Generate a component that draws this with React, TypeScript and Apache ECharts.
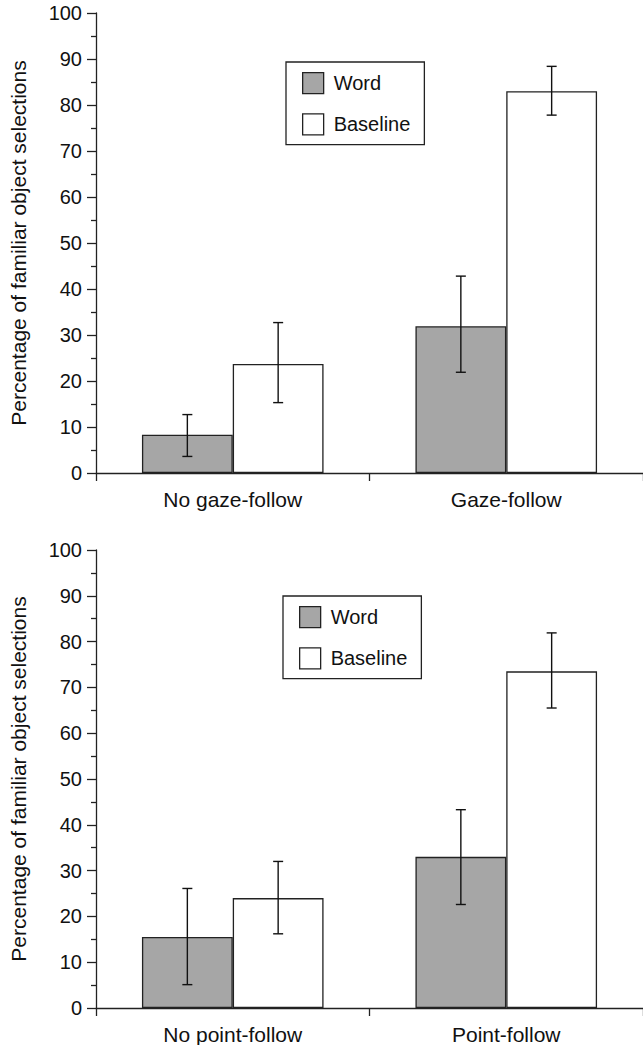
import React, { useEffect, useRef } from "react";
import * as echarts from "echarts";

const categoriesTop = ["No gaze-follow", "Gaze-follow"];
const categoriesBottom = ["No point-follow", "Point-follow"];
const seriesNames = ["Word", "Baseline"];

const wordTop = [8.3, 31.9];
const wordTopLow = [3.6, 21.9];
const wordTopHigh = [12.7, 42.8];
const baselineTop = [23.7, 83.0];
const baselineTopLow = [15.3, 77.8];
const baselineTopHigh = [32.7, 88.4];

const wordBottom = [15.5, 33.0];
const wordBottomLow = [5.1, 22.6];
const wordBottomHigh = [26.1, 43.3];
const baselineBottom = [24.0, 73.5];
const baselineBottomLow = [16.2, 65.5];
const baselineBottomHigh = [32.0, 81.9];

const yMin = 0;
const yMax = 100;
const yInterval = 10;
const yAxisName = "Percentage of familiar object selections";

const FONT = "'Liberation Sans', Arial, Helvetica, sans-serif";
const INK = "#111";
const GAP = 0.336;

export default function App() {
  const ref = useRef<HTMLDivElement>(null);
  useEffect(() => {
    if (!ref.current) return;
    const chart = echarts.init(ref.current, undefined, { renderer: "svg" });

    const errSeries = (gridIdx: number, low: number[], high: number[], side: number) => ({
      type: "custom",
      xAxisIndex: gridIdx,
      yAxisIndex: gridIdx,
      z: 10,
      silent: true,
      data: low.map((l, i) => [i, l, high[i]]),
      renderItem: (params: any, api: any) => {
        const idx = api.value(0);
        const lo = api.coord([idx, api.value(1)]);
        const hi = api.coord([idx, api.value(2)]);
        const bw = api.size([1, 0])[0];
        const x = lo[0] + side * bw * (1 - GAP) / 4;
        const cap = 5;
        const st = { stroke: "#111", lineWidth: 1.4 };
        return {
          type: "group",
          children: [
            { type: "line", shape: { x1: x, y1: lo[1], x2: x, y2: hi[1] }, style: st },
            { type: "line", shape: { x1: x - cap, y1: lo[1], x2: x + cap, y2: lo[1] }, style: st },
            { type: "line", shape: { x1: x - cap, y1: hi[1], x2: x + cap, y2: hi[1] }, style: st },
          ],
        };
      },
    });

    const barSeries = (gridIdx: number, name: string, data: number[], color: string) => ({
      type: "bar",
      name,
      xAxisIndex: gridIdx,
      yAxisIndex: gridIdx,
      data,
      barGap: "0%",
      barCategoryGap: GAP * 100 + "%",
      itemStyle: { color, borderColor: "#222", borderWidth: 1.3 },
    });

    const xAxis = (gridIdx: number, cats: string[]) => ({
      type: "category",
      gridIndex: gridIdx,
      data: cats,
      boundaryGap: true,
      axisLine: { lineStyle: { color: "#222", width: 1.3 } },
      axisTick: { show: true, length: 8, alignWithLabel: false, lineStyle: { color: "#222", width: 1.3 } },
      axisLabel: { fontFamily: FONT, fontSize: 21, color: INK, margin: 16 },
    });

    const yAxis = (gridIdx: number) => ({
      type: "value",
      gridIndex: gridIdx,
      min: yMin,
      max: yMax,
      interval: yInterval,
      name: yAxisName,
      nameLocation: "middle",
      nameGap: 67,
      nameTextStyle: { fontFamily: FONT, fontSize: 21, color: INK },
      axisLine: { show: true, lineStyle: { color: "#222", width: 1.3 } },
      axisTick: { show: true, length: 9, lineStyle: { color: "#222", width: 1.3 } },
      minorTick: { show: true, splitNumber: 2, length: 5, lineStyle: { color: "#222", width: 1.3 } },
      splitLine: { show: false },
      axisLabel: { fontFamily: FONT, fontSize: 20, color: INK, margin: 14 },
    });

    const legend = (left: number, top: number) => ({
      data: seriesNames,
      orient: "vertical",
      left,
      top,
      padding: [10, 14, 9, 16],
      itemGap: 19,
      itemWidth: 21,
      itemHeight: 21,
      icon: "rect",
      borderColor: "#222",
      borderWidth: 1.3,
      backgroundColor: "#fff",
      itemStyle: { borderColor: "#222", borderWidth: 1.3 },
      textStyle: { fontFamily: FONT, fontSize: 20, color: INK, padding: [0, 0, 0, 5] },
      selectedMode: false,
    });

    chart.setOption({
      animation: false,
      backgroundColor: "#fff",
      grid: [
        { left: 91, right: -8, top: 13, height: 460 },
        { left: 91, right: -8, top: 550, height: 462 },
      ],
      legend: [legend(286, 62), legend(283, 596)],
      xAxis: [xAxis(0, categoriesTop), xAxis(1, categoriesBottom)],
      yAxis: [yAxis(0), yAxis(1)],
      series: [
        barSeries(0, seriesNames[0], wordTop, "#a6a6a6"),
        barSeries(0, seriesNames[1], baselineTop, "#ffffff"),
        barSeries(1, seriesNames[0], wordBottom, "#a6a6a6"),
        barSeries(1, seriesNames[1], baselineBottom, "#ffffff"),
        errSeries(0, wordTopLow, wordTopHigh, -1),
        errSeries(0, baselineTopLow, baselineTopHigh, 1),
        errSeries(1, wordBottomLow, wordBottomHigh, -1),
        errSeries(1, baselineBottomLow, baselineBottomHigh, 1),
      ],
    });
    return () => chart.dispose();
  }, []);
  return (
    <div
      ref={ref}
      style={{ position: "absolute", left: 0, top: 0, width: 643, height: 1045 }}
    />
  );
}
